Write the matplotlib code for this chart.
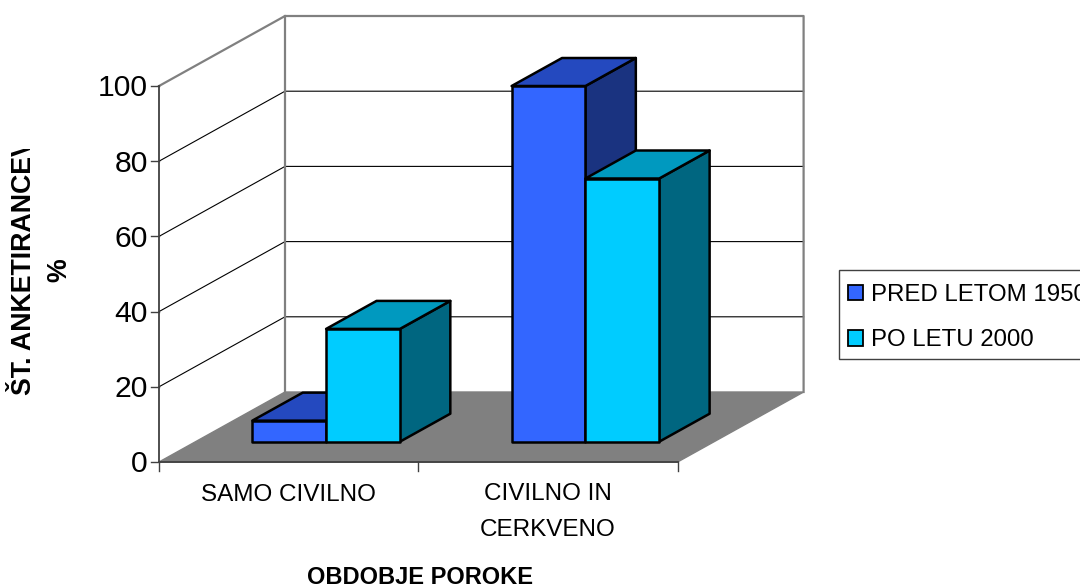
import matplotlib
matplotlib.use('Agg')
import matplotlib.pyplot as plt
from matplotlib.patches import Polygon, Patch, Rectangle
from matplotlib.transforms import Bbox

plt.rcParams['font.family'] = ['Liberation Sans', 'DejaVu Sans']

categories = ['SAMO CIVILNO', 'CIVILNO IN\nCERKVENO']
series_names = ['PRED LETOM 1950', 'PO LETU 2000']
before_1950 = [5.6, 94.6]
after_2000 = [30, 70]
y_ticks = [0, 20, 40, 60, 80, 100]

# front, top, side colours of each series
blue = ['#3366ff', '#2449bf', '#1a3380']
cyan = ['#00ccff', '#0099bf', '#006680']
grey = '#808080'

# oblique projection, output in pixels of the 1080x588 image
X0, Y0 = 159, 462
CAT_W = 259.3
UNIT_H = 3.76
DEPTH_X, DEPTH_Y = 126, -70


def proj(cat, val, depth=0):
    return (X0 + cat * CAT_W + depth * DEPTH_X, Y0 - val * UNIT_H + depth * DEPTH_Y)


fig = plt.figure(figsize=(10.8, 5.88), dpi=100)
ax = fig.add_axes([0, 0, 1, 1])
ax.set_xlim(0, 1080)
ax.set_ylim(588, 0)
ax.axis('off')

n = len(categories)
top = y_ticks[-1]

# floor
ax.add_patch(Polygon([proj(0, 0), proj(n, 0), proj(n, 0, 1), proj(0, 0, 1)], fc=grey, ec=grey, lw=1, zorder=1))

# grid on both walls
for t in y_ticks[1:-1]:
    ax.plot(*zip(proj(0, t), proj(0, t, 1), proj(n, t, 1)), color='black', lw=0.8, zorder=1)

# wall border
ax.plot(*zip(proj(0, top), proj(0, top, 1), proj(n, top, 1), proj(n, 0, 1)), color=grey, lw=1.6, zorder=1)
ax.plot(*zip(proj(0, 0, 1), proj(0, top, 1)), color=grey, lw=1.6, zorder=1)

# axes lines and ticks
ax.plot(*zip(proj(0, 0), proj(0, top)), color='#404040', lw=1.3, zorder=2)
ax.plot(*zip(proj(0, 0), proj(n, 0)), color='#404040', lw=1.3, zorder=2)
for t in y_ticks:
    x, y = proj(0, t)
    ax.plot([x - 8, x], [y, y], color='#404040', lw=1, zorder=2)
    ax.text(x - 11, y - 0.5, str(t), ha='right', va='center_baseline', fontsize=21.7, color='black')
for i in range(n + 1):
    x, y = proj(i, 0)
    ax.plot([x, x], [y, y + 9], color='#404040', lw=1, zorder=2)

# bars
BAR_W = 0.2846
BAR_START = 0.219
D1, D2 = 0.29, 0.69


def bar3d(cat0, val, cols, z):
    cat1 = cat0 + BAR_W
    ax.add_patch(Polygon([proj(cat1, 0, D1), proj(cat1, 0, D2), proj(cat1, val, D2), proj(cat1, val, D1)],
                         fc=cols[2], ec='black', lw=1.8, joinstyle='round', zorder=z))
    ax.add_patch(Polygon([proj(cat0, val, D1), proj(cat1, val, D1), proj(cat1, val, D2), proj(cat0, val, D2)],
                         fc=cols[1], ec='black', lw=1.8, joinstyle='round', zorder=z))
    ax.add_patch(Polygon([proj(cat0, 0, D1), proj(cat1, 0, D1), proj(cat1, val, D1), proj(cat0, val, D1)],
                         fc=cols[0], ec='black', lw=1.8, joinstyle='round', zorder=z))


for i in range(n):
    bar3d(i + BAR_START, before_1950[i], blue, 3 + i)
    bar3d(i + BAR_START + BAR_W, after_2000[i], cyan, 3.5 + i)

# category labels
ax.text(288, 495, categories[0], ha='center', va='center', fontsize=17.5, color='black')
ax.text(548, 512, categories[1], ha='center', va='center', fontsize=17.5, color='black', linespacing=1.8)

# axis titles
ax.text(420, 577, 'OBDOBJE POROKE', ha='center', va='center', fontsize=17, fontweight='bold')
ylab = ax.text(24, 395, 'ŠT. ANKETIRANCEV', ha='left', va='center', rotation=90, rotation_mode='anchor',
               fontsize=19.3, fontweight='bold')
# the original cuts this title off near the top, clip box is in display pixels
ylab.set_clip_on(True)
ylab.set_clip_box(Bbox([[0, 0], [100, 588 - 149]]))
ax.text(59, 270, '%', ha='center', va='center', rotation=90, fontsize=19.3, fontweight='bold')

# legend box runs off the right edge in the original too
ax.add_patch(Rectangle((839, 270), 260, 89, fc='white', ec='#404040', lw=1, zorder=6))
handles = [Patch(fc=blue[0], ec='black', lw=1.3), Patch(fc=cyan[0], ec='black', lw=1.3)]
leg = ax.legend(handles, series_names, loc='upper left', bbox_to_anchor=(848, 284), bbox_transform=ax.transData,
                fontsize=17.3, frameon=False, handlelength=0.62, handleheight=0.62, handletextpad=0.35,
                labelspacing=0.97, borderpad=0, borderaxespad=0)
leg.set_zorder(7)

plt.savefig('out.png', dpi=100)
